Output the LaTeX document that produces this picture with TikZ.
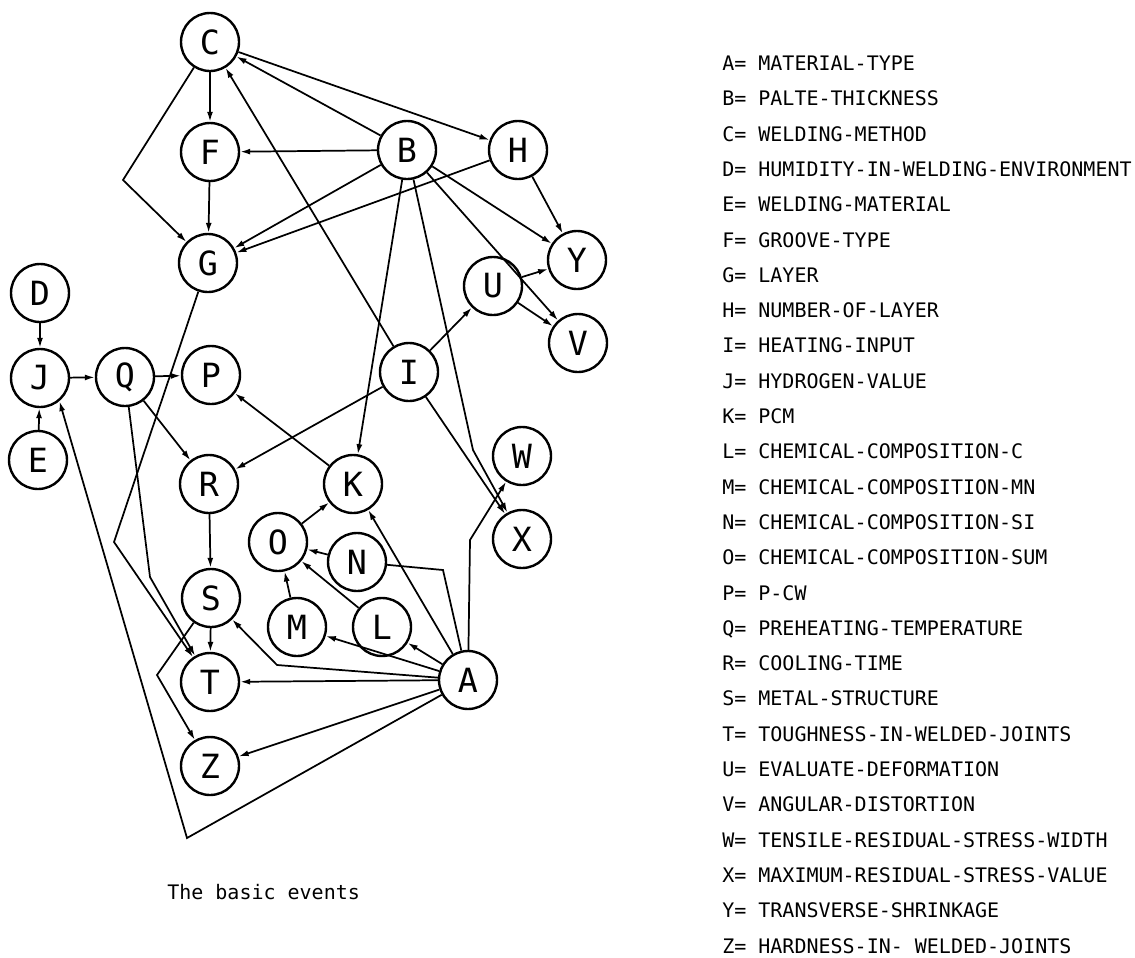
\documentclass[tikz,border=0pt]{standalone}
\usepackage{fontspec}
\newfontfamily\monofont{DejaVu Sans Mono}
\usetikzlibrary{arrows.meta}

\begin{document}
\begin{tikzpicture}[x=0.75pt,y=-0.75pt,
  ev/.style={circle,draw,line width=1.8pt,minimum size=43.5pt,inner sep=0pt,
    font=\monofont\fontsize{25}{25}\selectfont},
  link/.style={line width=1.3pt},
  to/.style={link,-{Latex[length=7.5pt,width=4.5pt]}},
  legend/.style={anchor=base west,inner sep=0pt,font=\monofont\fontsize{15}{15}\selectfont}]

\useasboundingbox (0,0) rectangle (1135,957);

% events
\node[ev] (C) at (210,42)  {C};
\node[ev] (F) at (210,152) {F};
\node[ev] (G) at (208,263) {G};
\node[ev] (B) at (407,150) {B};
\node[ev] (H) at (518,150) {H};
\node[ev] (Y) at (577,260) {Y};
\node[ev] (U) at (493,286) {U};
\node[ev] (V) at (578,343) {V};
\node[ev] (D) at (40,293)  {D};
\node[ev] (J) at (40,378)  {J};
\node[ev] (E) at (38,460)  {E};
\node[ev] (Q) at (125,377) {Q};
\node[ev] (P) at (211,375) {P};
\node[ev] (I) at (409,372) {I};
\node[ev] (R) at (209,484) {R};
\node[ev] (K) at (353,484) {K};
\node[ev] (W) at (522,456) {W};
\node[ev] (X) at (522,539) {X};
\node[ev] (O) at (278,542) {O};
\node[ev] (N) at (357,562) {N};
\node[ev] (S) at (211,598) {S};
\node[ev] (M) at (297,627) {M};
\node[ev] (L) at (382,627) {L};
\node[ev] (T) at (210,682) {T};
\node[ev] (A) at (468,680) {A};
\node[ev] (Z) at (210,766) {Z};

% bends of the routed links
\coordinate (kCG) at (123,180);
\coordinate (kBX) at (473,450);
\coordinate (kAW) at (470,540);
\coordinate (kAN) at (443,570);
\coordinate (kAS) at (277,665);
\coordinate (kAJ) at (187,838);
\coordinate (kGT) at (114,542);
\coordinate (kQT) at (150,577);
\coordinate (kSZ) at (157,675);

% links
\draw[to] (C) -- (F);
\draw[to] (F) -- (G);
\draw[to] (C) -- (kCG) -- (G);
\draw[to] (B) -- (C);
\draw[to] (C) -- (H);
\draw[to] (I) -- (C);
\draw[to] (B) -- (F);
\draw[to] (B) -- (G);
\draw[to] (H) -- (G);
\draw[to] (H) -- (Y);
\draw[to] (B) -- (Y);
\draw[to] (B) -- (V);
\draw[to] (U) -- (Y);
\draw[to] (U) -- (V);
\draw[to] (I) -- (U);
\draw[to] (I) -- (R);
\draw[to] (I) -- (X);
\draw[to] (B) -- (K);
\draw[to] (B) -- (kBX) -- (X);
\draw[to] (D) -- (J);
\draw[to] (E) -- (J);
\draw[to] (J) -- (Q);
\draw[to] (Q) -- (P);
\draw[to] (Q) -- (R);
\draw[to] (Q) -- (kQT) -- (T);
\draw[to] (G) -- (kGT) -- (T);
\draw[to] (R) -- (S);
\draw[to] (S) -- (T);
\draw[to] (S) -- (kSZ) -- (Z);
\draw[to] (K) -- (P);
\draw[to] (O) -- (K);
\draw[to] (N) -- (O);
\draw[to] (M) -- (O);
\draw[to] (L) -- (O);
\draw[link] (A) -- (kAN) -- (N);
\draw[to] (A) -- (K);
\draw[to] (A) -- (L);
\draw[to] (A) -- (M);
\draw[to] (A) -- (kAS) -- (S);
\draw[to] (A) -- (T);
\draw[to] (A) -- (Z);
\draw[to] (A) -- (kAJ) -- (J.-50);
\draw[to] (A) -- (kAW) -- (W);

% caption
\node[legend] (cap) at (167,899) {The basic events};

% key to the letters
\foreach \txt [count=\i from 0] in {
  A= MATERIAL-TYPE,
  B= PALTE-THICKNESS,
  C= WELDING-METHOD,
  D= HUMIDITY-IN-WELDING-ENVIRONMENT,
  E= WELDING-MATERIAL,
  F= GROOVE-TYPE,
  G= LAYER,
  H= NUMBER-OF-LAYER,
  I= HEATING-INPUT,
  J= HYDROGEN-VALUE,
  K= PCM,
  L= CHEMICAL-COMPOSITION-C,
  M= CHEMICAL-COMPOSITION-MN,
  N= CHEMICAL-COMPOSITION-SI,
  O= CHEMICAL-COMPOSITION-SUM,
  P= P-CW,
  Q= PREHEATING-TEMPERATURE,
  R= COOLING-TIME,
  S= METAL-STRUCTURE,
  T= TOUGHNESS-IN-WELDED-JOINTS,
  U= EVALUATE-DEFORMATION,
  V= ANGULAR-DISTORTION,
  W= TENSILE-RESIDUAL-STRESS-WIDTH,
  X= MAXIMUM-RESIDUAL-STRESS-VALUE,
  Y= TRANSVERSE-SHRINKAGE,
  Z= HARDNESS-IN- WELDED-JOINTS}
  \node[legend] (key\i) at (722,70.5+35.3*\i) {\txt};

\end{tikzpicture}
\end{document}
